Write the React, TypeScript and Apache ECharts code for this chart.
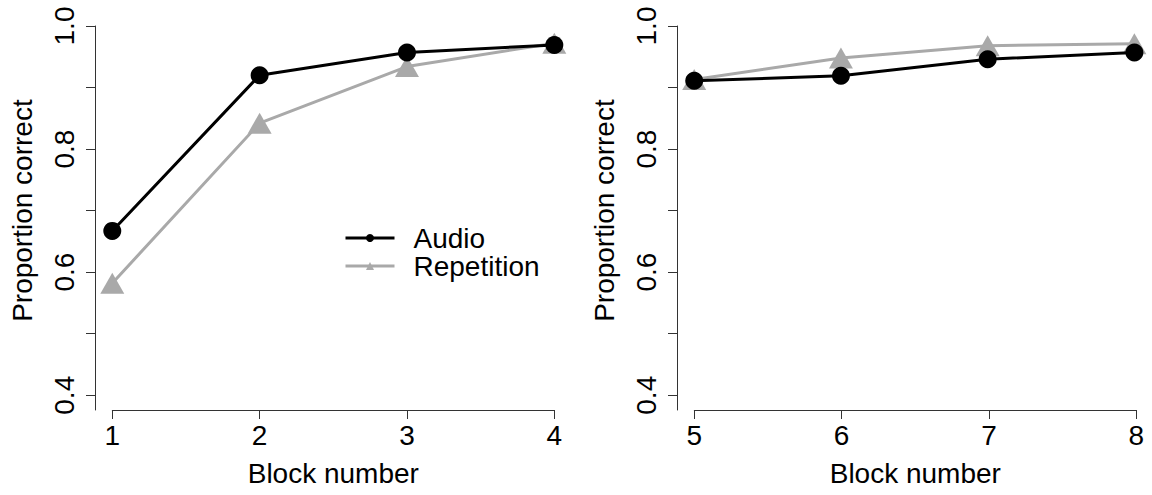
import React, { useEffect, useRef } from "react";
import * as echarts from "echarts";

const blocksLeft = [1, 2, 3, 4];
const blocksRight = [5, 6, 7, 8];
const audioLeft = [0.667, 0.92, 0.957, 0.969];
const repetitionLeft = [0.582, 0.842, 0.934, 0.972];
const audioRight = [0.911, 0.919, 0.946, 0.957];
const repetitionRight = [0.913, 0.948, 0.968, 0.971];
const yTickValues = [0.4, 0.5, 0.6, 0.7, 0.8, 0.9, 1.0];
const yLabelValues = [0.4, 0.6, 0.8, 1.0];
const seriesNames = ["Audio", "Repetition"];
const xAxisName = "Block number";
const yAxisName = "Proportion correct";

const FONT = "'Liberation Sans', Arial, Helvetica, sans-serif";
const BLACK = "#000000";
const GRAY = "#a9a9a9";
const AXIS = "#333333";
const FS = 28;

function pairs(xs: number[], ys: number[]) {
  return xs.map((x, i) => [x, ys[i]]);
}

export default function App() {
  const ref = useRef<HTMLDivElement>(null);
  useEffect(() => {
    if (!ref.current) return;
    const chart = echarts.init(ref.current, undefined, { renderer: "svg" });
    const off = 582;
    const panels = [0, off];
    const grids: any[] = [];
    const xAxes: any[] = [];
    const yAxes: any[] = [];
    const series: any[] = [];
    const xRanges = [
      [1, 4],
      [5, 8],
    ];
    const dataSets = [
      [audioLeft, repetitionLeft, blocksLeft],
      [audioRight, repetitionRight, blocksRight],
    ];
    panels.forEach((dx, p) => {
      const g = p * 3;
      grids.push({ left: 94.6 + dx, top: 11.2, width: 477.4, height: 398.8 });
      grids.push({ left: 112.3 + dx, top: 11.2, width: 442, height: 398.8 });
      grids.push({ left: 95 + dx, top: 26, width: 442, height: 384 });
      const [x0, x1] = xRanges[p];
      xAxes.push({ gridIndex: g, type: "value", min: x0 - 0.12, max: x1 + 0.12, show: false });
      yAxes.push({
        gridIndex: g,
        type: "value",
        min: 0.376,
        max: 1.024,
        position: "left",
        axisLine: { show: false },
        axisTick: { show: false },
        axisLabel: { show: false },
        splitLine: { show: false },
        name: yAxisName,
        nameLocation: "middle",
        nameRotate: 90,
        nameGap: 58,
        nameTextStyle: { fontSize: FS, color: "#000", fontFamily: FONT },
      });
      xAxes.push({
        gridIndex: g + 1,
        type: "value",
        min: x0,
        max: x1,
        interval: 1,
        position: "bottom",
        axisLine: { show: true, lineStyle: { color: AXIS, width: 1 } },
        axisTick: { show: true, inside: false, length: 9, lineStyle: { color: AXIS, width: 1 } },
        axisLabel: { show: true, margin: 11, fontSize: FS, color: "#000", fontFamily: FONT },
        splitLine: { show: false },
        name: xAxisName,
        nameLocation: "middle",
        nameGap: 49,
        nameTextStyle: { fontSize: FS, color: "#000", fontFamily: FONT },
      });
      yAxes.push({ gridIndex: g + 1, type: "value", min: 0, max: 1, show: false });
      xAxes.push({ gridIndex: g + 2, type: "value", min: 0, max: 1, show: false });
      yAxes.push({
        gridIndex: g + 2,
        type: "value",
        min: 0.376,
        max: 1.0,
        position: "left",
        axisLine: { show: true, lineStyle: { color: AXIS, width: 1 } },
        axisTick: {
          show: true,
          inside: false,
          length: 9,
          customValues: yTickValues,
          lineStyle: { color: AXIS, width: 1 },
        },
        axisLabel: {
          show: true,
          customValues: yLabelValues,
          rotate: 90,
          margin: 17,
          fontSize: FS,
          color: "#000",
          fontFamily: FONT,
          formatter: (v: number) => v.toFixed(1),
        },
        splitLine: { show: false },
      });
      const [aud, rep, xs] = dataSets[p];
      series.push({
        name: seriesNames[1],
        type: "line",
        xAxisIndex: g,
        yAxisIndex: g,
        data: pairs(xs, rep),
        symbol: "triangle",
        symbolSize: [24, 21],
        lineStyle: { color: GRAY, width: 3 },
        itemStyle: { color: GRAY },
        z: 2,
      });
      series.push({
        name: seriesNames[0],
        type: "line",
        xAxisIndex: g,
        yAxisIndex: g,
        data: pairs(xs, aud),
        symbol: "circle",
        symbolSize: 18,
        lineStyle: { color: BLACK, width: 3 },
        itemStyle: { color: BLACK },
        z: 3,
      });
    });

    chart.setOption({
      animation: false,
      backgroundColor: "#ffffff",
      grid: grids,
      xAxis: xAxes,
      yAxis: yAxes,
      legend: {
        orient: "vertical",
        left: 339,
        top: 219,
        itemWidth: 49,
        itemHeight: 10,
        itemGap: 0,
        data: [seriesNames[0], seriesNames[1]],
        lineStyle: { width: 3 },
        textStyle: { fontSize: FS, color: "#000", fontFamily: FONT, padding: [0, 0, 0, 14] },
        selectedMode: false,
      },
      series,
    });
    return () => chart.dispose();
  }, []);
  return (
    <div
      ref={ref}
      style={{ position: "fixed", left: 0, top: 0, width: 1152, height: 495, background: "#fff" }}
    />
  );
}
